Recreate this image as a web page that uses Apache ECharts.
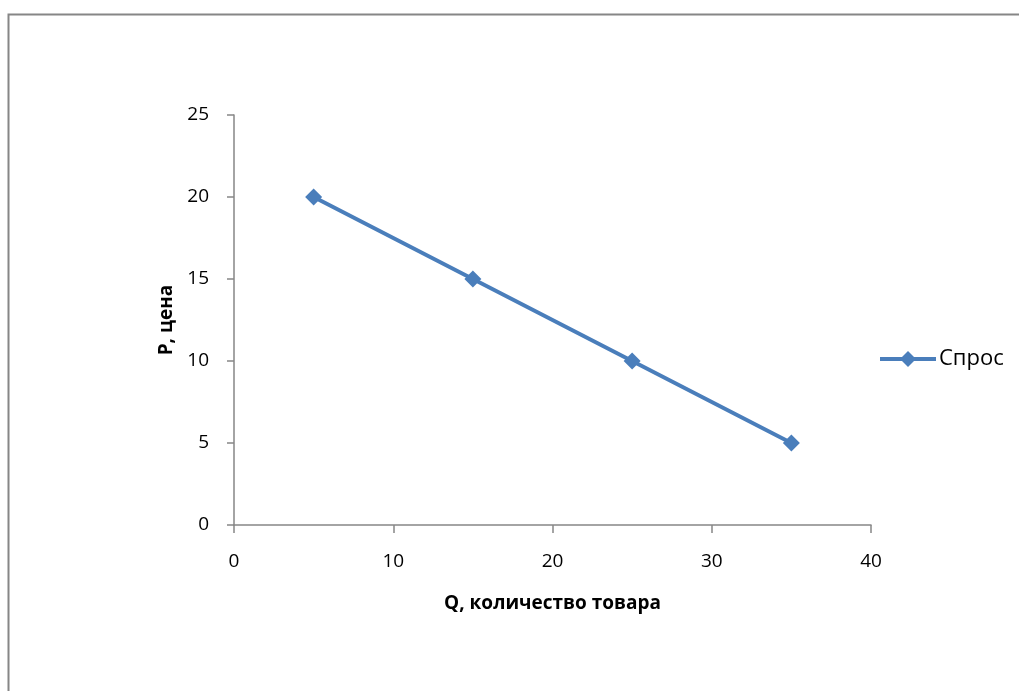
<!DOCTYPE html>
<html><head><meta charset="utf-8">
<script src="https://cdn.jsdelivr.net/npm/echarts@6/dist/echarts.min.js"></script>
<style>html,body{margin:0;padding:0;background:#fff}#c{width:1019px;height:691px}</style>
</head><body><div id="c"></div>
<script>
const quantity = [5, 15, 25, 35];
const price = [20, 15, 10, 5];
const seriesName = 'Спрос';
const xTitle = 'Q, количество товара';
const yTitle = 'P, цена';

const chart = echarts.init(document.getElementById('c'));
const font = 'Open Sans, Noto Sans, sans-serif';
const axisCol = '#868686';
chart.setOption({
  animation: false,
  backgroundColor: '#fff',
  graphic: [{type:'rect', shape:{x:8.5, y:14.5, width:1200, height:900}, style:{fill:'none', stroke:'#868686', lineWidth:2}, silent:true}],
  grid: {left: 234, right: 148, top: 115, bottom: 166},
  legend: {left: 878, top: 348, padding: 0, itemWidth: 56, itemHeight: 20, itemGap: 4,
    lineStyle: {width: 4},
    textStyle: {fontFamily: font, fontSize: 22, color: '#000', padding:[0,0,0,-2]}, data:[seriesName]},
  xAxis: {type:'value', min:0, max:40, interval:10,
    name: xTitle, nameLocation:'middle', nameGap: 69,
    nameTextStyle:{fontFamily:font, fontSize:19, fontWeight:'bold', color:'#000'},
    axisLine:{show:true, lineStyle:{color:axisCol, width:1.5}},
    axisTick:{show:true, length:8, lineStyle:{color:axisCol, width:1.5}},
    axisLabel:{fontFamily:font, fontSize:19, color:'#000', margin:27},
    splitLine:{show:false}},
  yAxis: {type:'value', min:0, max:25, interval:5,
    name: yTitle, nameLocation:'middle', nameGap: 56,
    nameTextStyle:{fontFamily:font, fontSize:19, fontWeight:'bold', color:'#000'},
    axisLine:{show:true, lineStyle:{color:axisCol, width:1.5}},
    axisTick:{show:true, length:7, lineStyle:{color:axisCol, width:1.5}},
    axisLabel:{fontFamily:font, fontSize:19, color:'#000', margin:25},
    splitLine:{show:false}},
  series: [{
    name: seriesName, type:'line',
    data: quantity.map((q,i)=>[q, price[i]]),
    symbol:'diamond', symbolSize:17,
    lineStyle:{color:'#4A7EBB', width:4},
    itemStyle:{color:'#4A7EBB'}
  }]
});
</script></body></html>
